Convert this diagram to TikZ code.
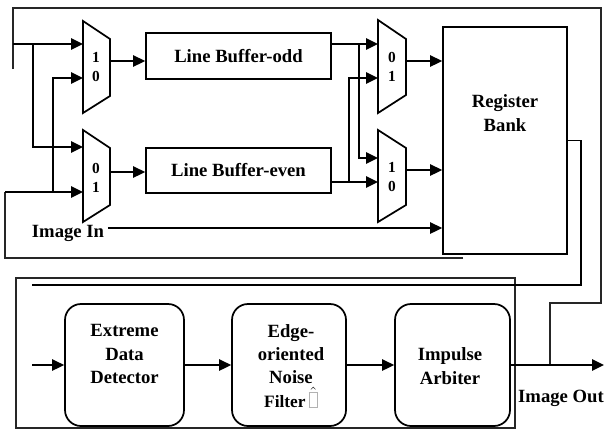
\documentclass[tikz,border=0pt]{standalone}
\usepackage{amssymb}
\usepackage{fontspec}
\setmainfont{Liberation Serif}
\usetikzlibrary{arrows.meta}

\tikzset{
  wire/.style={line width=1.3pt},
  arr/.style={wire, -{Triangle[length=9pt,width=8.5pt]}},
  frm/.style={line width=1pt, black!85},
  blk/.style={draw, line width=1.3pt, inner sep=0pt},
  rblk/.style={blk, rounded corners=12pt},
  txt/.style={inner sep=0.75pt, align=center, font=\bfseries\fontsize{14}{17.6}\selectfont},
  sel/.style={inner sep=0.75pt, align=center, font=\bfseries\fontsize{11.5}{14.25}\selectfont},
}

\begin{document}
\begin{tikzpicture}[x=0.75pt,y=0.75pt,yscale=-1,xscale=1]
\useasboundingbox (0,0) rectangle (606,429);

%Shape: Mux 1
\draw [wire] (83,21) -- (110,39) -- (110,96) -- (83,113) -- cycle ;
\coordinate (m1a) at (83,44); \coordinate (m1b) at (83,78); \coordinate (m1o) at (110,61);
%Shape: Mux 2
\draw [wire] (83,130) -- (110,148) -- (110,205) -- (83,222) -- cycle ;
\coordinate (m2a) at (83,147); \coordinate (m2b) at (83,192); \coordinate (m2o) at (110,172);
%Shape: Mux 3
\draw [wire] (378,20) -- (406,39) -- (406,95) -- (378,113) -- cycle ;
\coordinate (m3a) at (378,44); \coordinate (m3b) at (378,78); \coordinate (m3o) at (406,61);
%Shape: Mux 4
\draw [wire] (378,130) -- (406,148) -- (406,205) -- (378,222) -- cycle ;
\coordinate (m4a) at (378,158); \coordinate (m4b) at (378,182); \coordinate (m4o) at (406,170);

% Text Node
\node [sel] (sel1) at (96,67.5) {1\\0};
% Text Node
\node [sel] (sel2) at (96,178) {0\\1};
% Text Node
\node [sel] (sel3) at (392,67) {0\\1};
% Text Node
\node [sel] (sel4) at (392,177.5) {1\\0};

%Shape: Rectangle
\node [blk, txt, minimum width=138.75pt, minimum height=34.5pt] (odd) at (238.5,56) {Line Buffer-odd};
%Shape: Rectangle
\node [blk, txt, minimum width=138.75pt, minimum height=33.75pt] (even) at (238.5,170.5) {Line Buffer-even};
%Shape: Rectangle
\node [blk, minimum width=93pt, minimum height=170.25pt] (regbank) at (505,140.5) {};
% Text Node
\node [txt] (rbtxt) at (505,113) {Register\\Bank};

%Shape: Rounded Rectangles
\node [rblk, minimum width=89.25pt, minimum height=91.5pt] (edd) at (124.5,365) {};
\node [rblk, minimum width=85.5pt, minimum height=91.5pt] (eon) at (289,365) {};
\node [rblk, minimum width=86.25pt, minimum height=91.5pt] (ia) at (452.5,365) {};
% Text Node
\node [txt] (eddtxt) at (124.5,354) {Extreme\\Data\\Detector};
% Text Node
\node [txt] (eontxt) at (291,366) {Edge-\\oriented\\Noise\\{\fontsize{13}{14}\selectfont Filter}\,$\hat{\hbox{\color{gray!60}\fboxsep=0pt\fbox{\rule{0pt}{11pt}\hspace{6pt}}}}$};
% Text Node
\node [txt] (iatxt) at (450,366) {Impulse\\Arbiter};

%Straight Lines: outer frames
\draw [frm] (13,69) -- (13,8) -- (601,8) -- (601,303) -- (550,303) -- (550,365) ;
\coordinate (s1) at (13,44);
\coordinate (s2) at (5,192);
\draw [frm] (463,258) -- (5,258) -- (s2) ;
\draw [frm] (16,278) rectangle (515,428) ;

%Straight Lines: mux inputs
\draw [arr] (s1) -- (m1a) ;
\draw [arr] (s1) ++(20,0) |- (m2a) ;
\draw [arr] (s2) -- (m2b) ;
\draw [arr] (s2) ++(48,0) |- (m1b) ;

%Straight Lines: line buffers
\draw [arr] (m1o) -- (m1o -| odd.west) ;
\draw [arr] (m2o) -- (m2o -| even.west) ;
\draw [arr] (odd.east |- m3a) -- (m3a) ;
\draw [arr] (odd.east |- m3a) ++(27,0) |- (m4a) ;
\draw [arr] (even.east |- m4b) -- (m4b) ;
\draw [arr] (even.east |- m4b) ++(17,0) |- (m3b) ;

%Straight Lines: register bank
\draw [arr] (m3o) -- (m3o -| regbank.west) ;
\draw [arr] (m4o) -- (m4o -| regbank.west) ;
% Text Node
\node [txt] (imgin) at (68,233) {Image In};
\draw [arr] ([yshift=-3.75pt,xshift=2pt]imgin.east) -- ([yshift=-3.75pt]imgin.east -| regbank.west) ;
\coordinate (fbk) at (32,285);
\draw [wire] (regbank.east) -- ++(13,0) |- (fbk) ;

%Straight Lines: filter chain
\coordinate (ein) at (32,365);
\coordinate (iout) at (604,365);
\draw [arr] (ein) -- (edd) ;
\draw [arr] (edd) -- (eon) ;
\draw [arr] (eon) -- (ia) ;
\draw [arr] (ia) -- (iout) ;
% Text Node
\node [txt] (imgout) at (561,398) {Image Out};

\end{tikzpicture}
\end{document}
